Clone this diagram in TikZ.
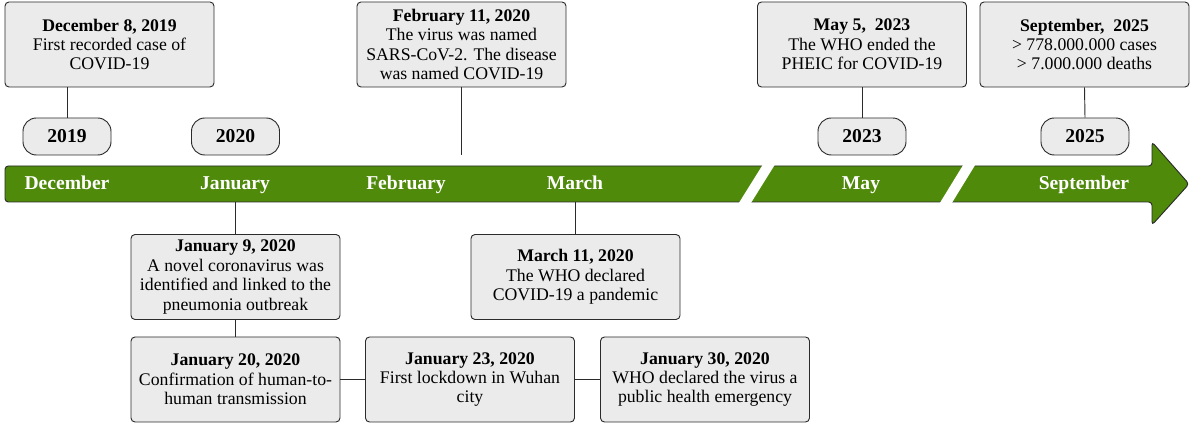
\documentclass[tikz,border=0pt]{standalone}
\usepackage{fontspec}
\setmainfont{Liberation Serif}
\definecolor{boxfill}{HTML}{EBEBEB}
\definecolor{barg}{HTML}{4F8A0B}
\definecolor{edge}{HTML}{2B2B2B}
\begin{document}
\begin{tikzpicture}[x=0.75pt,y=-0.75pt,
  event/.style={draw=edge, fill=boxfill, rounded corners=3pt, line width=0.7pt,
    minimum width=156.75pt, minimum height=63.75pt, align=center, inner sep=1pt,
    font=\fontsize{13.3}{14.6}\selectfont},
  yearpill/.style={draw=edge, fill=boxfill, rounded corners=10pt, line width=0.7pt,
    minimum width=66pt, minimum height=27.75pt, inner sep=0pt,
    font=\fontsize{14.7}{16}\selectfont\bfseries},
  monthlbl/.style={text=white, inner sep=0pt, anchor=base, font=\fontsize{14.7}{16}\selectfont\bfseries},
  link/.style={draw=edge, line width=0.7pt},
  slash/.style={draw=white, line width=7.7pt}]
\useasboundingbox (0,0) rectangle (1193,423);

% timeline arrow
\draw[edge, fill=barg, line width=0.7pt, rounded corners=2.5pt]
  (5,166) -- (1152,166) -- (1152,142) -- (1189,184) -- (1152,225) -- (1152,202) -- (5,202) -- cycle;
\draw[slash] (771.1,161) -- (742.4,207);
\draw[slash] (971.6,161) -- (943.4,207);

% month labels
\node[monthlbl] (mdec) at (67,190) {December};
\node[monthlbl] (mjan) at (235,190) {January};
\node[monthlbl] (mfeb) at (406,190) {February};
\node[monthlbl] (mmar) at (575,190) {March};
\node[monthlbl] (mmay) at (861,190) {May};
\node[monthlbl] (msep) at (1084,190) {September};

% year pills
\node[yearpill] (y2019) at (67,136.5) {2019};
\node[yearpill] (y2020) at (235.5,136.5) {2020};
\node[yearpill] (y2023) at (862,136.5) {2023};
\node[yearpill] (y2025) at (1085,136.5) {2025};

% upper events
\node[event] (dec8) at (109.5,44.5) {\textbf{December 8, 2019}\\First recorded case of\\COVID-19};
\node[event] (feb11) at (461.5,44.5) {\textbf{February 11, 2020}\\The virus was named\\SARS-CoV-2. The disease\\was named COVID-19};
\node[event] (may5) at (862,44.5) {\textbf{May 5, \ 2023}\\The WHO ended the\\PHEIC for COVID-19};
\node[event] (sep25) at (1084.5,44.5) {\textbf{September, \ 2025}\\> 778.000.000 cases\\> 7.000.000 deaths};

% lower events
\node[event] (jan9) at (235.5,277) {\textbf{January 9, 2020}\\A novel coronavirus was\\identified and linked to the\\pneumonia outbreak};
\node[event] (mar11) at (575.5,277) {\textbf{March 11, 2020}\\The WHO declared\\COVID-19 a pandemic};
\node[event] (jan20) at (235.5,379.5) {\textbf{January 20, 2020}\\Confirmation of human-to-\\human transmission};
\node[event] (jan23) at (470,379.5) {\textbf{January 23, 2020}\\First lockdown in Wuhan\\city};
\node[event] (jan30) at (705,379.5) {\textbf{January 30, 2020}\\WHO declared the virus a\\public health emergency};

% connectors
\coordinate (febend) at (461.5,155);
\coordinate (janbar) at (235.5,202);
\coordinate (marbar) at (575.5,202);
\draw[link] (y2019.north) -- (y2019.north |- dec8.south);
\draw[link] (feb11.south) -- (febend);
\draw[link] (may5.south) -- (y2023.north);
\draw[link] (sep25.south) -- (y2025.north);
\draw[link] (janbar) -- (jan9.north);
\draw[link] (marbar) -- (mar11.north);
\draw[link] (jan9.south) -- (jan20.north);
\draw[link] (jan20.east) -- (jan23.west);
\draw[link] (jan23.east) -- (jan30.west);
\end{tikzpicture}
\end{document}
